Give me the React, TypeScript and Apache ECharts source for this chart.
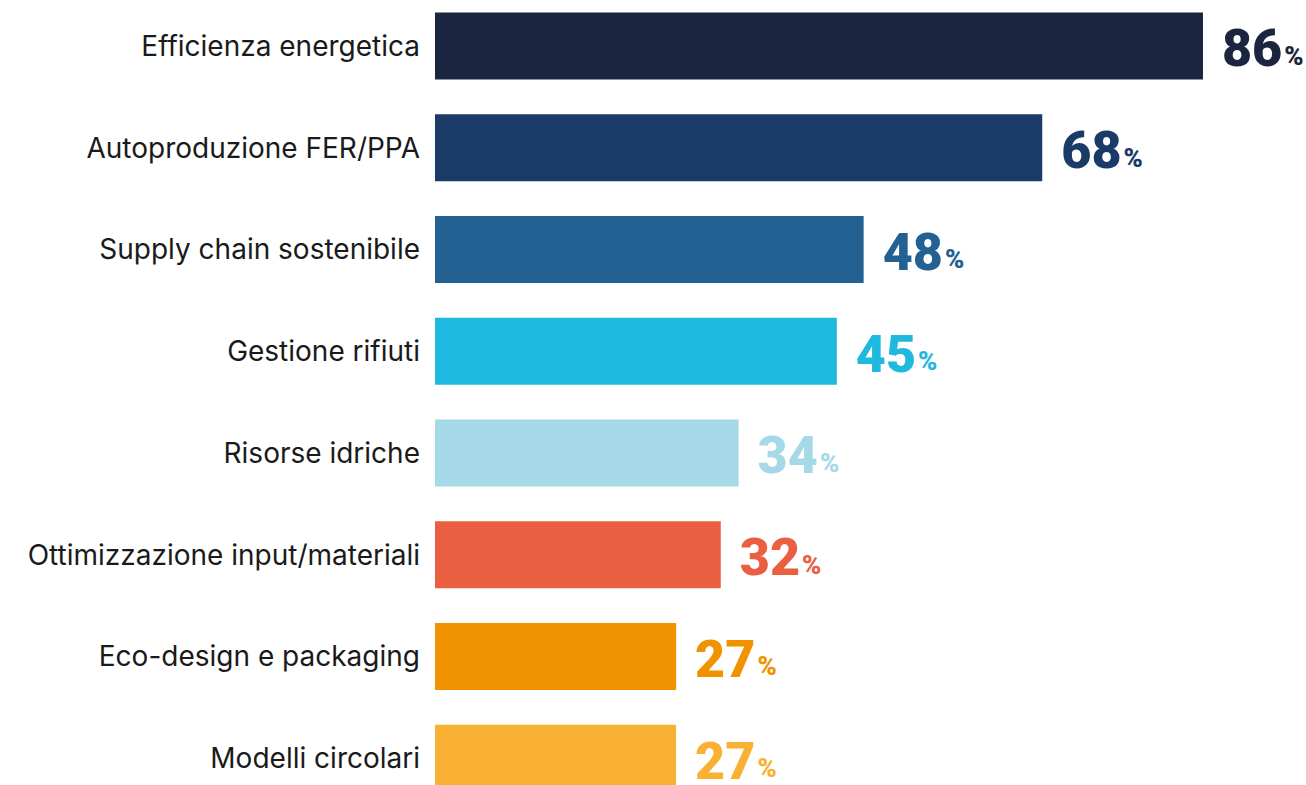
import React, { useEffect, useRef } from "react";
import * as echarts from "echarts";

const categories = [
  "Efficienza energetica",
  "Autoproduzione FER/PPA",
  "Supply chain sostenibile",
  "Gestione rifiuti",
  "Risorse idriche",
  "Ottimizzazione input/materiali",
  "Eco-design e packaging",
  "Modelli circolari",
];
const values = [86, 68, 48, 45, 34, 32, 27, 27];
const colors = [
  "#1b2540",
  "#1a3a68",
  "#236192",
  "#1fb9e0",
  "#a6d9e7",
  "#ea5e42",
  "#f19200",
  "#f8b133",
];

export default function App() {
  const ref = useRef<HTMLDivElement>(null);
  useEffect(() => {
    document.body.style.margin = "0";
    const chart = echarts.init(ref.current!, null, { renderer: "svg" });
    chart.setOption({
      animation: false,
      backgroundColor: "#ffffff",
      grid: {
        left: 435,
        top: -5,
        width: 893,
        height: 814,
        containLabel: false,
        outerBoundsMode: "none",
      },
      xAxis: {
        type: "value",
        min: 0,
        max: 100,
        show: false,
      },
      yAxis: {
        type: "category",
        data: categories,
        inverse: true,
        axisLine: { show: false },
        axisTick: { show: false },
        axisLabel: {
          margin: 15,
          color: "#1a1a1a",
          fontSize: 28,
          fontFamily: "Inter",
        },
      },
      series: [
        {
          type: "bar",
          barWidth: 67,
          data: values.map((v, i) => ({
            value: v,
            itemStyle: { color: colors[i] },
            label: {
              rich: {
                n: { color: colors[i], fontSize: 52, lineHeight: 44, fontWeight: 900, fontFamily: "Roboto", letterSpacing: -2 },
                p: { color: colors[i], fontSize: 26, lineHeight: 44, fontWeight: 900, fontFamily: "Roboto", padding: [14, 0, 0, 2] },
              },
            },
          })),
          label: {
            show: true,
            position: "right",
            distance: 19,
            offset: [0, 3],
            formatter: (p: any) => `{n|${p.value}}{p|%}`,
          },
        },
      ],
    });
    return () => chart.dispose();
  }, []);
  return <div ref={ref} style={{ width: 1306, height: 785 }} />;
}
